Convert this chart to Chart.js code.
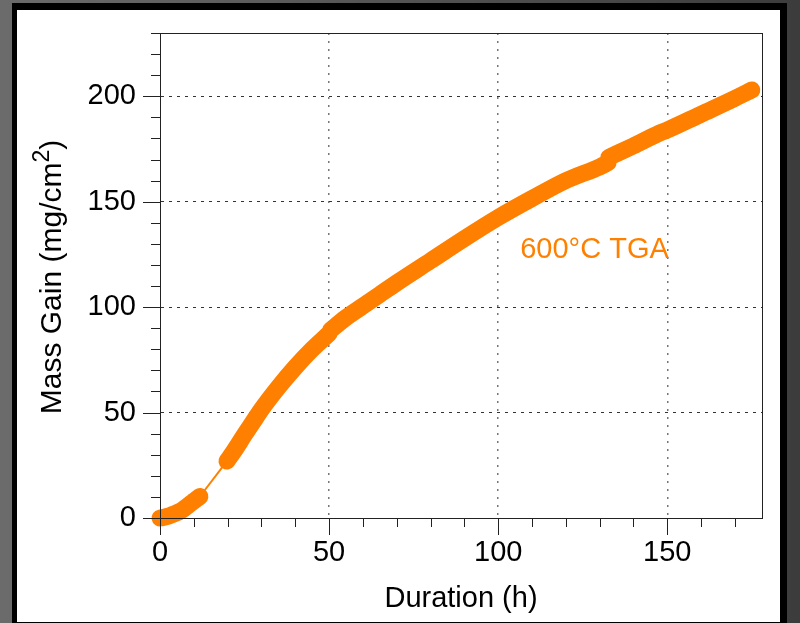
<!DOCTYPE html>
<html>
<head>
<meta charset="utf-8">
<script src="https://cdn.jsdelivr.net/npm/chart.js@4"></script>
<style>
  html, body { margin: 0; padding: 0; }
  body {
    width: 800px; height: 623px; overflow: hidden; position: relative;
    background: linear-gradient(to right, #6b6b6b, #3c3c3c);
  }
  #marco { position: absolute; left: 12px; top: 3px; width: 775px; height: 630px; background: #000; }
  #hoja { position: absolute; left: 17px; top: 10px; width: 763px; height: 612px; background: #fff; }
  #grafica { position: absolute; left: 0; top: 0; }
</style>
</head>
<body>
<div id="marco"></div>
<div id="hoja"></div>
<canvas id="grafica" width="800" height="623"></canvas>
<script>
// --- DATOS ---
// tramo inicial, 0-12 h
const horasA = [0, 1, 2, 3, 4, 5, 6, 7, 8, 9, 10, 11, 11.8];
const gananciaA = [0, 0.3, 0.7, 1.2, 1.8, 2.5, 3.3, 4.3, 5.5, 6.8, 8, 9.2, 10.2];

// tramo principal, 20-175 h (null = corte entre registros)
const horasB = [19.8, 22, 25, 27.5, 30, 35, 40, 45, 50, 50.2, 50.4, 55, 60, 65, 70, 80, 90, 100,
                110, 120, 130, 132.5, 132.6, 132.7, 140, 147, 150, 160, 170, 175];
const gananciaB = [27, 32, 39.5, 45.5, 51.5, 62, 71.5, 80, 87.5, null, 89, 95, 100.5, 106, 111.5, 122, 132.5, 142.5,
                   151.5, 160, 166.5, 168.5, null, 171, 176.5, 182, 184, 191.5, 199, 203];

const ticksX = [0, 50, 100, 150];
const ticksY = [0, 50, 100, 150, 200];
const etiqueta = { texto: "600°C TGA", x: 106.5, y: 123.5 };

const NARANJA = "#ff8000";
const FUENTE = "'Liberation Sans', Arial, sans-serif";

// puntos del trazo grueso, con un hueco entre tramos
const puntosGruesos = [];
horasA.forEach((h, i) => puntosGruesos.push({ x: h, y: gananciaA[i] }));
puntosGruesos.push({ x: 15, y: null });
horasB.forEach((h, i) => puntosGruesos.push({ x: h, y: gananciaB[i] }));

// línea fina que une el hueco
const puntosUnion = [
    { x: horasA[horasA.length - 1], y: gananciaA[gananciaA.length - 1] },
    { x: horasB[0], y: gananciaB[0] }
];

// marcas de escala (mayores y menores) + marco + textos
const marcasPlugin = {
    id: "marcas",
    afterDraw(chart) {
        const { ctx, chartArea: a, scales: { x, y } } = chart;
        ctx.save();
        ctx.strokeStyle = "#222";
        ctx.lineWidth = 1;
        ctx.setLineDash([]);
        ctx.beginPath();
        for (let v = 0; v <= 230; v += 10) {
            const py = Math.round(y.getPixelForValue(v)) + 0.5;
            const largo = v % 50 === 0 ? 17 : 9;
            ctx.moveTo(a.left - largo, py);
            ctx.lineTo(a.left, py);
        }
        for (let v = 0; v <= 170; v += 10) {
            const px = Math.round(x.getPixelForValue(v)) + 0.5;
            const largo = v % 50 === 0 ? 17 : 9;
            ctx.moveTo(px, a.bottom);
            ctx.lineTo(px, a.bottom + largo);
        }
        ctx.stroke();
        ctx.strokeRect(Math.round(a.left) + 0.5, Math.round(a.top) + 0.5,
                       Math.round(a.right - a.left), Math.round(a.bottom - a.top));

        // etiqueta de la serie
        ctx.fillStyle = NARANJA;
        ctx.font = "29px " + FUENTE;
        ctx.textAlign = "left";
        ctx.textBaseline = "alphabetic";
        ctx.fillText(etiqueta.texto, x.getPixelForValue(etiqueta.x), y.getPixelForValue(etiqueta.y));

        // título del eje Y con superíndice real
        const base = "Mass Gain (mg/cm", sup = "2", fin = ")";
        ctx.fillStyle = "#000";
        ctx.font = "30px " + FUENTE;
        const w1 = ctx.measureText(base).width;
        const w3 = ctx.measureText(fin).width;
        ctx.font = "23px " + FUENTE;
        const w2 = ctx.measureText(sup).width;
        const total = w1 + w2 + w3;
        ctx.translate(61, (a.top + a.bottom) / 2 + 1.5 + total / 2);
        ctx.rotate(-Math.PI / 2);
        ctx.font = "30px " + FUENTE;
        ctx.fillText(base, 0, 0);
        ctx.font = "23px " + FUENTE;
        ctx.fillText(sup, w1, -12);
        ctx.font = "30px " + FUENTE;
        ctx.fillText(fin, w1 + w2, 0);
        ctx.restore();
    }
};

function colorRejilla(tono) {
    return c => (c.tick && c.tick.value > 0 && c.tick.value % 50 === 0) ? tono : "rgba(0,0,0,0)";
}

new Chart(document.getElementById("grafica"), {
    type: "line",
    data: {
        datasets: [
            {
                data: puntosGruesos,
                borderColor: NARANJA,
                borderWidth: 17,
                borderCapStyle: "round",
                borderJoinStyle: "round",
                pointRadius: 0,
                spanGaps: false,
                cubicInterpolationMode: "monotone",
                clip: false
            },
            {
                data: puntosUnion,
                borderColor: NARANJA,
                borderWidth: 2,
                pointRadius: 0,
                clip: false
            }
        ]
    },
    options: {
        responsive: false,
        animation: false,
        events: [],
        layout: { padding: { left: 0, top: 33, right: 38, bottom: 0 } },
        plugins: { legend: { display: false }, tooltip: { enabled: false } },
        scales: {
            x: {
                type: "linear",
                min: 0, max: 178,
                afterFit: s => { s.height = 105; s.paddingLeft = 0; s.paddingRight = 0; },
                border: { color: "#222", width: 1, dash: [2, 6] },
                grid: { color: colorRejilla("#777"), drawTicks: false, lineWidth: 1.5 },
                ticks: {
                    stepSize: 10, maxTicksLimit: 100, autoSkip: false, maxRotation: 0,
                    padding: 18, color: "#000",
                    font: { family: FUENTE, size: 29 },
                    callback: v => ticksX.includes(v) ? String(v) : ""
                },
                title: {
                    display: true, text: "Duration (h)", color: "#000",
                    font: { family: FUENTE, size: 29 },
                    padding: { top: 0, bottom: 7 }
                }
            },
            y: {
                min: 0, max: 230,
                afterFit: s => { s.width = 160; s.paddingTop = 0; s.paddingBottom = 0; },
                border: { color: "#222", width: 1, dash: [3, 5] },
                grid: { color: colorRejilla("#333"), drawTicks: false, lineWidth: 1 },
                ticks: {
                    stepSize: 10, maxTicksLimit: 100, autoSkip: false,
                    padding: 24, color: "#000",
                    font: { family: FUENTE, size: 29 },
                    callback: v => ticksY.includes(v) ? String(v) : ""
                }
            }
        }
    },
    plugins: [marcasPlugin]
});
</script>
</body>
</html>
